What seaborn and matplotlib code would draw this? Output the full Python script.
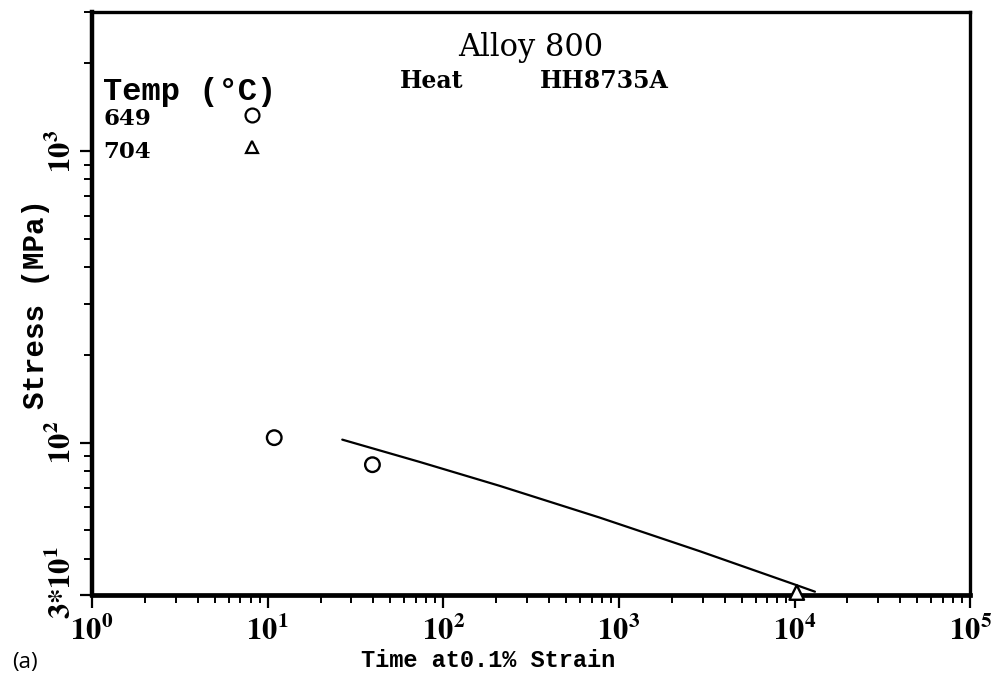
import numpy as np
import pandas as pd
import matplotlib
matplotlib.use("Agg")
import matplotlib.pyplot as plt
import matplotlib.transforms as mtransforms
import seaborn as sns
from matplotlib.ticker import LogLocator, FixedLocator, FixedFormatter, NullFormatter

# ---- data ----
temps = ["649", "649", "704"]
times = [10.9, 39.5, 10300.0]
stresses = [104.0, 84.0, 30.6]

curve_time = [26.6, 73.2, 209.0, 778.0, 2890.0, 10320.0, 13070.0]
curve_stress = [102.4, 85.9, 71.1, 55.3, 42.4, 32.4, 30.8]

xtick_vals = [1, 10, 100, 1000, 10000, 100000]
xtick_labels = [r"$\mathbf{10^{0}}$", r"$\mathbf{10^{1}}$", r"$\mathbf{10^{2}}$",
                r"$\mathbf{10^{3}}$", r"$\mathbf{10^{4}}$", r"$\mathbf{10^{5}}$"]
ytick_vals = [30, 100, 1000]
ytick_labels = [r"$\mathbf{3{*}10^{1}}$", r"$\mathbf{10^{2}}$", r"$\mathbf{10^{3}}$"]

legend_temps = ["649", "704"]
legend_markers = ["o", "^"]

sns.set_style("white")
plt.rcParams["font.family"] = ["DejaVu Serif"]
plt.rcParams["mathtext.fontset"] = "stix"
for k in ["text.color", "axes.labelcolor", "xtick.color", "ytick.color", "axes.edgecolor"]:
    plt.rcParams[k] = "black"

fig = plt.figure(figsize=(9.95, 6.75), dpi=100)
ax = fig.add_axes([0.0925, 0.1185, 0.8825, 0.8635])

df = pd.DataFrame({"temp": temps, "time": times, "stress": stresses})
curve = pd.DataFrame({"time": curve_time, "stress": curve_stress})

sns.lineplot(data=curve, x="time", y="stress", ax=ax, color="black", lw=1.6,
             sort=False, estimator=None)
sns.scatterplot(data=df, x="time", y="stress", style="temp",
                markers={"649": "o", "704": "^"}, ax=ax, s=110,
                facecolor="white", edgecolor="black", linewidth=1.7,
                legend=False, zorder=5, clip_on=False)

ax.set_xscale("log")
ax.set_yscale("log")
ax.set_xlim(1, 1e5)
ax.set_ylim(30, 3000)

for s in ax.spines.values():
    s.set_color("black")
    s.set_linewidth(2.4)
ax.spines["left"].set_linewidth(3.2)
ax.spines["bottom"].set_linewidth(3.4)

ax.xaxis.set_major_locator(FixedLocator(xtick_vals))
ax.xaxis.set_major_formatter(FixedFormatter(xtick_labels))
ax.xaxis.set_minor_locator(LogLocator(base=10, subs=np.arange(2, 10)))
ax.xaxis.set_minor_formatter(NullFormatter())
ax.yaxis.set_major_locator(FixedLocator(ytick_vals))
ax.yaxis.set_major_formatter(FixedFormatter(ytick_labels))
ax.yaxis.set_minor_locator(LogLocator(base=10, subs=np.arange(1, 10)))
ax.yaxis.set_minor_formatter(NullFormatter())

ax.tick_params(axis="both", which="major", direction="out", length=9, width=1.6,
               color="black", labelsize=22, bottom=True, left=True, top=False, right=False)
ax.tick_params(axis="both", which="minor", direction="out", length=6, width=1.4,
               color="black", bottom=True, left=True, top=False, right=False)
ax.tick_params(axis="x", which="major", pad=6)
ax.tick_params(axis="y", which="major", pad=1)
fig.canvas.draw()
ylbls = ax.get_yticklabels()
for lbl in ylbls:
    lbl.set_rotation(90)
    lbl.set_va("center")
off = mtransforms.ScaledTranslation(0, 12 / 100, fig.dpi_scale_trans)
ylbls[0].set_transform(ylbls[0].get_transform() + off)

ax.set_xlabel("Time at0.1% Strain", fontsize=17, fontweight="bold",
              family="Liberation Mono")
ax.xaxis.set_label_coords(0.451, -0.092)
ax.set_ylabel("Stress (MPa)", fontsize=21, fontweight="bold", family="Liberation Mono")
ax.yaxis.set_label_coords(-0.048, 0.5)

# annotations
ax.text(0.499, 0.925, "Alloy 800", transform=ax.transAxes, ha="center", va="baseline",
        fontsize=22)
ax.text(0.351, 0.870, "Heat", transform=ax.transAxes, ha="left", va="baseline",
        fontsize=17, fontweight="bold")
ax.text(0.510, 0.870, "HH8735A", transform=ax.transAxes, ha="left", va="baseline",
        fontsize=17, fontweight="bold")

# legend block
ax.text(0.0125, 0.849, "Temp (°C)", transform=ax.transAxes, ha="left", va="baseline",
        fontsize=23, fontweight="bold", family="Liberation Mono")
ypos = [0.806, 0.750]
mpos = [0.823, 0.768]
for t, m, yy, my in zip(legend_temps, legend_markers, ypos, mpos):
    ax.text(0.0125, yy, t, transform=ax.transAxes, ha="left", va="baseline",
            fontsize=16.5, fontweight="bold")
    ax.plot([0.182], [my], transform=ax.transAxes, marker=m, ms=10 if m == "o" else 8.5,
            mfc="white", mec="black", mew=1.6, ls="none")

fig.text(0.012, 0.018, "(a)", ha="left", va="center", fontsize=16, family="Open Sans")

fig.savefig("out.png", dpi=100, facecolor="white")
